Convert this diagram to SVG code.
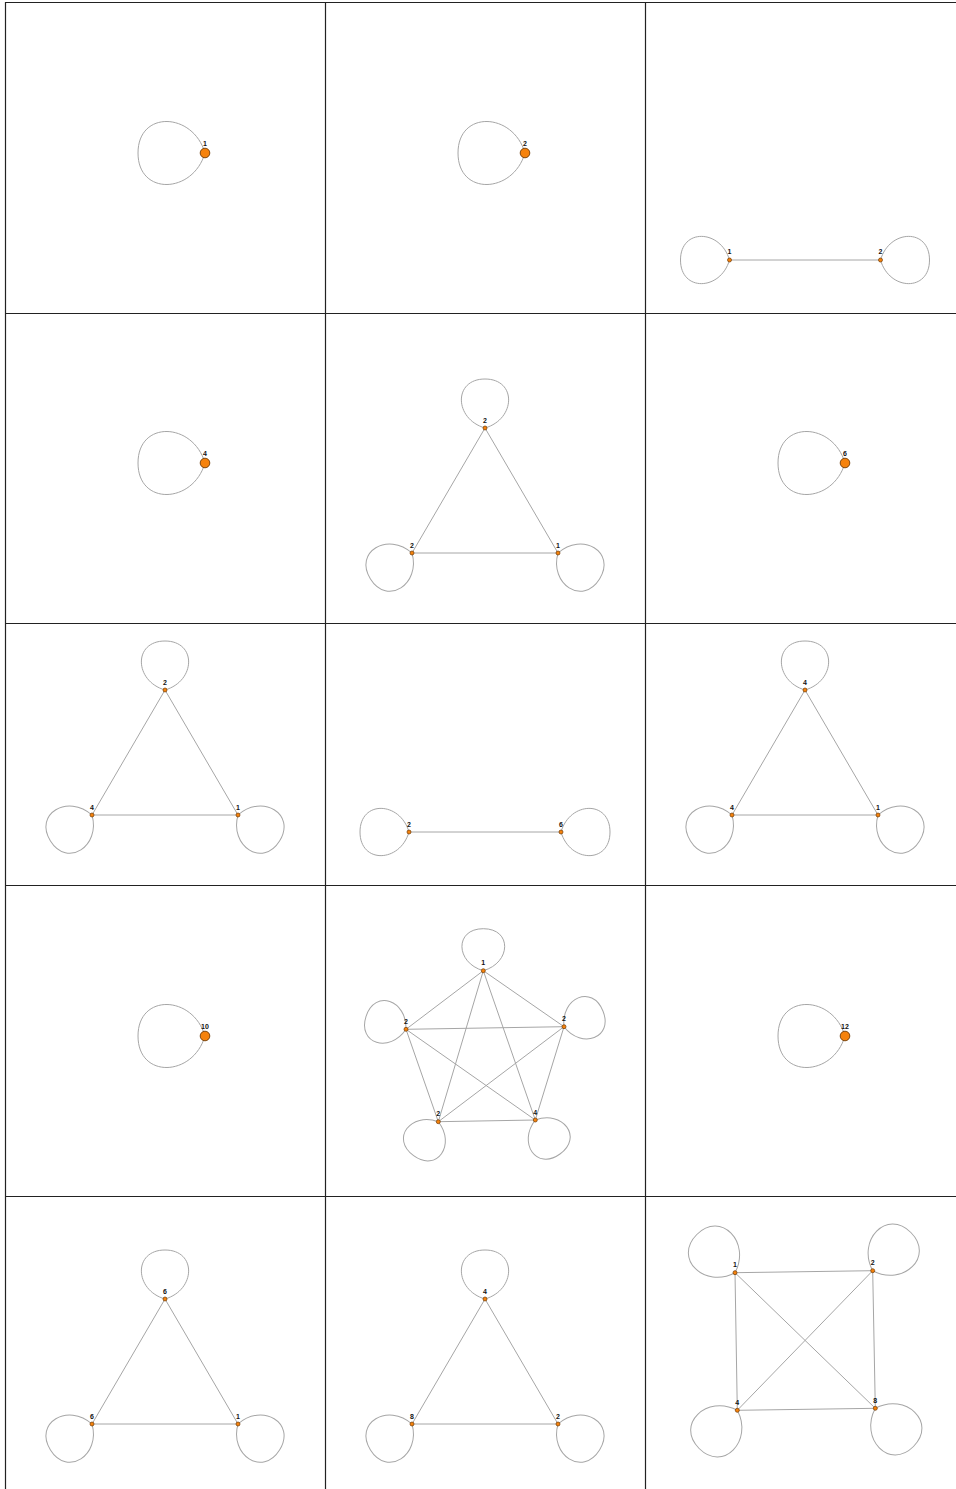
<svg xmlns="http://www.w3.org/2000/svg" xmlns:xlink="http://www.w3.org/1999/xlink" width="956" height="1489" viewBox="0 0 956 1489">
<style>
.grid{stroke:#222;stroke-width:1.2;fill:none}
.e{stroke:#a6a6a6;stroke-width:1;fill:none}
.lp{stroke:#a6a6a6;stroke-width:1;fill:none}
.nb{fill:#f5820c;stroke:#6e3a05;stroke-width:0.9}
.ns{fill:#f5820c;stroke:#6e3a05;stroke-width:0.7}
.t{font-family:"Liberation Sans",Arial,sans-serif;font-size:7px;font-weight:bold;fill:#111;text-anchor:middle}
</style>
<defs>
<path id="loopBig" class="lp" d="M0,0 C12,-41 67,-43 67,0 C67,43 12,41 0,0"/>
<path id="loopSmall" class="lp" d="M0,0 C9,-31 49,-32 49,0 C49,32 9,31 0,0"/>
<path id="loopPent" class="lp" d="M0,0 C8,-28 42,-29 42,0 C42,29 8,28 0,0"/>
<path id="loopSq" class="lp" d="M0,0 C10,-33 54,-34 54,0 C54,34 10,33 0,0"/>
</defs>
<rect width="956" height="1489" fill="#fff"/>
<g id="grid">
<line class="grid" x1="5" y1="2.5" x2="956" y2="2.5"/>
<line class="grid" x1="5.5" y1="2" x2="5.5" y2="1489"/>
<line class="grid" x1="325.5" y1="2" x2="325.5" y2="1489"/>
<line class="grid" x1="645.5" y1="2" x2="645.5" y2="1489"/>
<line class="grid" x1="5" y1="313.5" x2="956" y2="313.5"/>
<line class="grid" x1="5" y1="623.5" x2="956" y2="623.5"/>
<line class="grid" x1="5" y1="885.5" x2="956" y2="885.5"/>
<line class="grid" x1="5" y1="1196.5" x2="956" y2="1196.5"/>
</g>
<g id="connectors">
<!-- single loops -->
<use href="#loopBig" transform="translate(205,153) rotate(180)"/>
<use href="#loopBig" transform="translate(525,153) rotate(180)"/>
<use href="#loopBig" transform="translate(205,463) rotate(180)"/>
<use href="#loopBig" transform="translate(845,463) rotate(180)"/>
<use href="#loopBig" transform="translate(205,1036) rotate(180)"/>
<use href="#loopBig" transform="translate(845,1036) rotate(180)"/>
<!-- two-node (3,1) -->
<line class="e" x1="729.5" y1="260" x2="880.5" y2="260"/>
<use href="#loopSmall" transform="translate(729.5,260) rotate(180)"/>
<use href="#loopSmall" transform="translate(880.5,260)"/>
<!-- triangle (2,2) -->
<path class="e" d="M485,428 L412,553 L558,553 Z"/>
<use href="#loopSmall" transform="translate(485,428) rotate(-90)"/>
<use href="#loopSmall" transform="translate(412,553) rotate(148)"/>
<use href="#loopSmall" transform="translate(558,553) rotate(32)"/>
<!-- triangle (1,3) -->
<path class="e" d="M165,690 L92,815 L238,815 Z"/>
<use href="#loopSmall" transform="translate(165,690) rotate(-90)"/>
<use href="#loopSmall" transform="translate(92,815) rotate(148)"/>
<use href="#loopSmall" transform="translate(238,815) rotate(32)"/>
<!-- two-node (2,3) -->
<line class="e" x1="409" y1="832" x2="561" y2="832"/>
<use href="#loopSmall" transform="translate(409,832) rotate(180)"/>
<use href="#loopSmall" transform="translate(561,832)"/>
<!-- triangle (3,3) -->
<path class="e" d="M805,690 L732,815 L878,815 Z"/>
<use href="#loopSmall" transform="translate(805,690) rotate(-90)"/>
<use href="#loopSmall" transform="translate(732,815) rotate(148)"/>
<use href="#loopSmall" transform="translate(878,815) rotate(32)"/>
<!-- pentagon (2,4) -->
<path class="e" d="M483.3,970.7 L406,1029.3 M483.3,970.7 L564,1026.7 M483.3,970.7 L438.3,1121.7 M483.3,970.7 L535.3,1120 M406,1029.3 L564,1026.7 M406,1029.3 L438.3,1121.7 M406,1029.3 L535.3,1120 M564,1026.7 L438.3,1121.7 M564,1026.7 L535.3,1120 M438.3,1121.7 L535.3,1120"/>
<use href="#loopPent" transform="translate(483.3,970.7) rotate(-90)"/>
<use href="#loopPent" transform="translate(406,1029.3) rotate(198)"/>
<use href="#loopPent" transform="translate(564,1026.7) rotate(-22)"/>
<use href="#loopPent" transform="translate(438.3,1121.7) rotate(126)"/>
<use href="#loopPent" transform="translate(535.3,1120) rotate(54)"/>
<!-- triangle (1,5) -->
<path class="e" d="M165,1299 L92,1424 L238,1424 Z"/>
<use href="#loopSmall" transform="translate(165,1299) rotate(-90)"/>
<use href="#loopSmall" transform="translate(92,1424) rotate(148)"/>
<use href="#loopSmall" transform="translate(238,1424) rotate(32)"/>
<!-- triangle (2,5) -->
<path class="e" d="M485,1299 L412,1424 L558,1424 Z"/>
<use href="#loopSmall" transform="translate(485,1299) rotate(-90)"/>
<use href="#loopSmall" transform="translate(412,1424) rotate(148)"/>
<use href="#loopSmall" transform="translate(558,1424) rotate(32)"/>
<!-- square (3,5) -->
<path class="e" d="M735,1272.7 L872.7,1270.7 L875.3,1408.3 L737.3,1410.3 Z M735,1272.7 L875.3,1408.3 M872.7,1270.7 L737.3,1410.3"/>
<use href="#loopSq" transform="translate(735,1272.7) rotate(-135)"/>
<use href="#loopSq" transform="translate(872.7,1270.7) rotate(-45)"/>
<use href="#loopSq" transform="translate(737.3,1410.3) rotate(135)"/>
<use href="#loopSq" transform="translate(875.3,1408.3) rotate(45)"/>
</g>
<g id="n-c11"><circle class="nb" cx="205" cy="153" r="4.8"/><text class="t" x="205" y="145.5">1</text></g>
<g id="n-c21"><circle class="nb" cx="525" cy="153" r="4.8"/><text class="t" x="525" y="145.5">2</text></g>
<g id="n-c31a"><circle class="ns" cx="729.5" cy="260" r="2"/><text class="t" x="729.5" y="254">1</text></g>
<g id="n-c31b"><circle class="ns" cx="880.5" cy="260" r="2"/><text class="t" x="880.5" y="254">2</text></g>
<g id="n-c12"><circle class="nb" cx="205" cy="463" r="4.8"/><text class="t" x="205" y="455.5">4</text></g>
<g id="n-c22a"><circle class="ns" cx="485" cy="428" r="2"/><text class="t" x="485" y="422.5">2</text></g>
<g id="n-c22b"><circle class="ns" cx="412" cy="553" r="2"/><text class="t" x="412" y="547.5">2</text></g>
<g id="n-c22c"><circle class="ns" cx="558" cy="553" r="2"/><text class="t" x="558" y="547.5">1</text></g>
<g id="n-c32"><circle class="nb" cx="845" cy="463" r="4.8"/><text class="t" x="845" y="455.5">6</text></g>
<g id="n-c13a"><circle class="ns" cx="165" cy="690" r="2"/><text class="t" x="165" y="684.5">2</text></g>
<g id="n-c13b"><circle class="ns" cx="92" cy="815" r="2"/><text class="t" x="92" y="809.5">4</text></g>
<g id="n-c13c"><circle class="ns" cx="238" cy="815" r="2"/><text class="t" x="238" y="809.5">1</text></g>
<g id="n-c23a"><circle class="ns" cx="409" cy="832" r="2"/><text class="t" x="409" y="826.5">2</text></g>
<g id="n-c23b"><circle class="ns" cx="561" cy="832" r="2"/><text class="t" x="561" y="826.5">6</text></g>
<g id="n-c33a"><circle class="ns" cx="805" cy="690" r="2"/><text class="t" x="805" y="684.5">4</text></g>
<g id="n-c33b"><circle class="ns" cx="732" cy="815" r="2"/><text class="t" x="732" y="809.5">4</text></g>
<g id="n-c33c"><circle class="ns" cx="878" cy="815" r="2"/><text class="t" x="878" y="809.5">1</text></g>
<g id="n-c14"><circle class="nb" cx="205" cy="1036" r="4.8"/><text class="t" x="205" y="1028.5">10</text></g>
<g id="n-c24a"><circle class="ns" cx="483.3" cy="970.7" r="2"/><text class="t" x="483.3" y="965.2">1</text></g>
<g id="n-c24b"><circle class="ns" cx="406" cy="1029.3" r="2"/><text class="t" x="406" y="1023.8">2</text></g>
<g id="n-c24c"><circle class="ns" cx="564" cy="1026.7" r="2"/><text class="t" x="564" y="1021.2">2</text></g>
<g id="n-c24d"><circle class="ns" cx="438.3" cy="1121.7" r="2"/><text class="t" x="438.3" y="1116.2">2</text></g>
<g id="n-c24e"><circle class="ns" cx="535.3" cy="1120" r="2"/><text class="t" x="535.3" y="1114.5">4</text></g>
<g id="n-c34"><circle class="nb" cx="845" cy="1036" r="4.8"/><text class="t" x="845" y="1028.5">12</text></g>
<g id="n-c15a"><circle class="ns" cx="165" cy="1299" r="2"/><text class="t" x="165" y="1293.5">6</text></g>
<g id="n-c15b"><circle class="ns" cx="92" cy="1424" r="2"/><text class="t" x="92" y="1418.5">6</text></g>
<g id="n-c15c"><circle class="ns" cx="238" cy="1424" r="2"/><text class="t" x="238" y="1418.5">1</text></g>
<g id="n-c25a"><circle class="ns" cx="485" cy="1299" r="2"/><text class="t" x="485" y="1293.5">4</text></g>
<g id="n-c25b"><circle class="ns" cx="412" cy="1424" r="2"/><text class="t" x="412" y="1418.5">8</text></g>
<g id="n-c25c"><circle class="ns" cx="558" cy="1424" r="2"/><text class="t" x="558" y="1418.5">2</text></g>
<g id="n-c35a"><circle class="ns" cx="735" cy="1272.7" r="2"/><text class="t" x="735" y="1267.2">1</text></g>
<g id="n-c35b"><circle class="ns" cx="872.7" cy="1270.7" r="2"/><text class="t" x="872.7" y="1265.2">2</text></g>
<g id="n-c35c"><circle class="ns" cx="737.3" cy="1410.3" r="2"/><text class="t" x="737.3" y="1404.8">4</text></g>
<g id="n-c35d"><circle class="ns" cx="875.3" cy="1408.3" r="2"/><text class="t" x="875.3" y="1402.8">8</text></g>
</svg>
